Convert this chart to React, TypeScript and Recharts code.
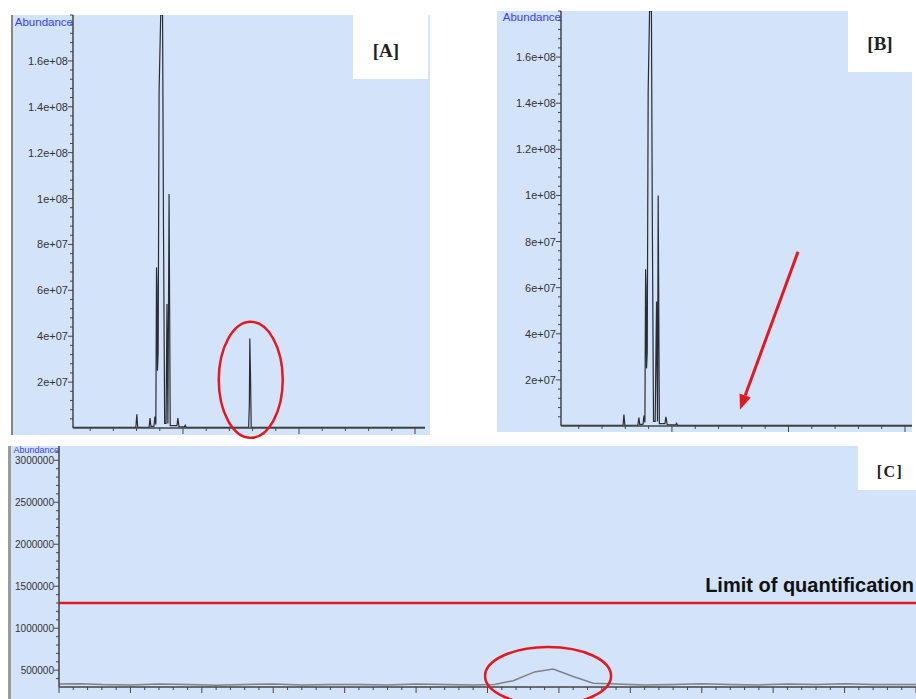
import React from 'react';
import { LineChart, Line, XAxis, YAxis, ReferenceLine, ReferenceDot } from 'recharts';

// [A] spiked sample – retention time (min) and abundance
const timeA = [0.26, 2.97, 3.01, 3.05, 3.54, 3.58, 3.62, 3.75, 3.79, 3.83, 3.86, 3.88, 3.9, 3.93, 3.97, 4.04, 4.12, 4.16, 4.21, 4.27, 4.31, 4.35, 4.4, 4.45, 4.74, 4.78, 4.83, 5.06, 5.1, 5.14, 7.83, 7.86, 7.88, 7.91, 7.94, 15.43];
const abundanceA = [3e5, 3e5, 6e6, 3e5, 4e5, 4.3e6, 6e5, 8e5, 5e6, 1.5e6, 7.0e7, 6.2e7, 2.5e7, 3.3e7, 1.47e8, 1.8e8, 1.8e8, 8.7e7, 2e6, 2e6, 5.4e7, 2e6, 1.02e8, 1e6, 1e6, 4.3e6, 5e5, 5e5, 1.2e6, 3e5, 3e5, 1e7, 3.9e7, 2.3e7, 3e5, 3e5];

// [B] blank sample
const timeB = [0.24, 2.9, 2.94, 2.98, 3.54, 3.58, 3.62, 3.76, 3.8, 3.84, 3.87, 3.89, 3.91, 3.94, 3.98, 4.04, 4.12, 4.16, 4.21, 4.28, 4.34, 4.38, 4.41, 4.46, 4.7, 4.74, 4.8, 5.16, 5.2, 5.24, 15.3];
const abundanceB = [3e5, 3e5, 5e6, 3e5, 4e5, 3.7e6, 6e5, 8e5, 4.5e6, 1.5e6, 6.8e7, 6e7, 2.5e7, 3.2e7, 1.45e8, 1.8e8, 1.8e8, 8.6e7, 2e6, 2e6, 5.4e7, 2e6, 1.0e8, 1e6, 1e6, 4e6, 5e5, 5e5, 1.2e6, 3e5, 3e5];

// [C] zoomed blank trace
const timeC = [0, 1.5, 3, 5, 7, 9, 11, 13, 15, 17, 19, 21, 23, 25, 27, 29, 30.5, 31.8, 33.3, 34.6, 36, 37.4, 39, 41, 43, 45, 47, 49, 51, 53, 55, 57, 60];
const abundanceC = [335000, 340000, 330000, 325000, 335000, 330000, 320000, 330000, 335000, 325000, 330000, 330000, 325000, 335000, 330000, 325000, 330000, 375000, 480000, 515000, 425000, 345000, 335000, 325000, 330000, 340000, 330000, 325000, 335000, 330000, 340000, 330000, 330000];

const LOQ = 1300000;

const xTicksAB = [1, 2, 3, 4, 5, 6, 7, 8, 9, 10, 11, 12, 13, 14, 15];
const yMajorAB = [2e7, 4e7, 6e7, 8e7, 1e8, 1.2e8, 1.4e8, 1.6e8];
const yLabelsAB = ['2e+07', '4e+07', '6e+07', '8e+07', '1e+08', '1.2e+08', '1.4e+08', '1.6e+08'];
const yMajorC = [500000, 1000000, 1500000, 2000000, 2500000, 3000000];
const yLabelsC = ['500000', '1000000', '1500000', '2000000', '2500000', '3000000'];

const BG = '#d3e3fa';
const AXIS = '#454545';
const TRACE = '#2a2e34';
const RED = '#e3191f';
const SANS = "'Liberation Sans', Arial, sans-serif";
const SERIF = "'Liberation Serif', 'DejaVu Serif', serif";

const yMinorAB = Array.from({ length: 45 }, (_, i) => (i + 1) * 4e6);
const yMinorC = Array.from({ length: 28 }, (_, i) => (i + 4) * 1e5);
const xTicksC = Array.from({ length: 61 }, (_, i) => i);

const dataA = timeA.map((t, i) => ({ t, v: abundanceA[i] }));
const dataB = timeB.map((t, i) => ({ t, v: abundanceB[i] }));
const dataC = timeC.map((t, i) => ({ t, v: abundanceC[i] }));

const xTick = (p: any) => {
  const len = p.payload.value % 5 === 0 ? 6 : 3;
  return <line x1={p.x} x2={p.x} y1={p.y} y2={p.y + len} stroke={AXIS} strokeWidth={1} />;
};

const yTick = (values: number[], labels: string[], fontSize: number) => (p: any) => {
  const i = values.indexOf(p.payload.value);
  const major = i >= 0;
  return (
    <g>
      <line x1={p.x - (major ? 5 : 3)} x2={p.x} y1={p.y} y2={p.y} stroke={AXIS} strokeWidth={1} />
      {major && (
        <text x={p.x - 5} y={p.y} dy={fontSize * 0.36} textAnchor="end" fontSize={fontSize} fontFamily={SANS} fill="#333">
          {labels[i]}
        </text>
      )}
    </g>
  );
};

const ellipse = (rx: number, ry: number) => (p: any) => (
  <ellipse cx={p.cx} cy={p.cy} rx={rx} ry={ry} fill="none" stroke={RED} strokeWidth={2.5} />
);

const arrow = (p: any) => {
  const { x1, y1, x2, y2 } = p;
  const a = Math.atan2(y2 - y1, x2 - x1);
  const L = 15, W = 6;
  const bx = x2 - L * Math.cos(a), by = y2 - L * Math.sin(a);
  const pts = `${x2},${y2} ${bx + W * Math.sin(a)},${by - W * Math.cos(a)} ${bx - W * Math.sin(a)},${by + W * Math.cos(a)}`;
  return (
    <g>
      <line x1={x1} y1={y1} x2={bx} y2={by} stroke={RED} strokeWidth={3} />
      <polygon points={pts} fill={RED} />
    </g>
  );
};

const loqLabel = (p: any) => {
  const vb = p.viewBox;
  return (
    <text x={vb.x + vb.width - 2} y={vb.y - 11} textAnchor="end" fontSize={20} fontWeight={700} fontFamily={SANS} fill="#111">
      Limit of quantification
    </text>
  );
};

const abundanceStyle = (right: number, top: number, size: number): React.CSSProperties => ({
  position: 'absolute', right: 916 - right, top, fontSize: size, fontFamily: SANS, color: '#3740f2', lineHeight: 1,
});

const tag = (cx: number, cy: number, size: number, spacing = 0): React.CSSProperties => ({
  position: 'absolute', left: cx - 40, top: cy - size * 0.62, width: 80, textAlign: 'center',
  fontFamily: SERIF, fontWeight: 700, fontSize: size, color: '#222', lineHeight: 1.2, letterSpacing: spacing,
});

export default function App() {
  return (
    <div style={{ position: 'absolute', left: 0, top: 0, width: 916, height: 699, background: '#fff', overflow: 'hidden' }}>
      {/* panel backgrounds */}
      <div style={{ position: 'absolute', left: 11, top: 15, width: 417, height: 420, background: BG, borderLeft: '2px solid #8d8677' }} />
      <div style={{ position: 'absolute', left: 497, top: 11, width: 415, height: 421, background: BG }} />
      <div style={{ position: 'absolute', left: 8, top: 446, width: 908, height: 253, background: BG, borderLeft: '3px solid #9b9b9b' }} />

      {/* white label boxes */}
      <div style={{ position: 'absolute', left: 353, top: 15, width: 75, height: 64, background: '#fff' }} />
      <div style={{ position: 'absolute', left: 848, top: 11, width: 64, height: 61, background: '#fff' }} />
      <div style={{ position: 'absolute', left: 858, top: 446, width: 58, height: 44, background: '#fff' }} />
      <div style={tag(386, 52, 19)}>[A]</div>
      <div style={tag(880, 45, 19)}>[B]</div>
      <div style={tag(890, 472, 16, 1.5)}>[C]</div>

      <div style={abundanceStyle(73, 17, 11.5)}>Abundance</div>
      <div style={abundanceStyle(561, 12, 11.5)}>Abundance</div>
      <div style={abundanceStyle(59, 446, 9)}>Abundance</div>

      {/* [A] */}
      <div style={{ position: 'absolute', left: 0, top: 0 }}>
        <LineChart width={440} height={440} data={dataA} margin={{ top: 15, right: 15, left: 0, bottom: 0 }}>
          <XAxis type="number" dataKey="t" domain={[0.26, 15.43]} ticks={xTicksAB} interval={0} tickSize={0} tickMargin={0} tick={xTick} height={12} axisLine={{ stroke: AXIS, strokeWidth: 1.5 }} allowDataOverflow />
          <YAxis type="number" domain={[0, 1.8e8]} ticks={yMinorAB} interval={0} tickSize={0} tickMargin={0} tick={yTick(yMajorAB, yLabelsAB, 11)} width={73} axisLine={{ stroke: AXIS, strokeWidth: 1.5 }} allowDataOverflow />
          <Line type="linear" dataKey="v" stroke={TRACE} strokeWidth={1.2} dot={false} isAnimationActive={false} />
          <ReferenceDot x={7.92} y={2.1e7} r={0} ifOverflow="visible" shape={ellipse(32, 58)} />
        </LineChart>
      </div>

      {/* [B] */}
      <div style={{ position: 'absolute', left: 488, top: 0 }}>
        <LineChart width={424} height={438} data={dataB} margin={{ top: 11, right: 0, left: 0, bottom: 0 }}>
          <XAxis type="number" dataKey="t" domain={[0.24, 15.3]} ticks={xTicksAB} interval={0} tickSize={0} tickMargin={0} tick={xTick} height={12} axisLine={{ stroke: AXIS, strokeWidth: 1.5 }} allowDataOverflow />
          <YAxis type="number" domain={[0, 1.8e8]} ticks={yMinorAB} interval={0} tickSize={0} tickMargin={0} tick={yTick(yMajorAB, yLabelsAB, 11)} width={73} axisLine={{ stroke: AXIS, strokeWidth: 1.5 }} allowDataOverflow />
          <Line type="linear" dataKey="v" stroke={TRACE} strokeWidth={1.2} dot={false} isAnimationActive={false} />
          <ReferenceLine segment={[{ x: 10.41, y: 7.56e7 }, { x: 7.92, y: 7.1e6 }]} ifOverflow="visible" shape={arrow} />
        </LineChart>
      </div>

      {/* [C] */}
      <div style={{ position: 'absolute', left: 0, top: 440 }}>
        <LineChart width={916} height={259} data={dataC} margin={{ top: 6, right: 0, left: 0, bottom: 0 }}>
          <XAxis type="number" dataKey="t" domain={[0, 60]} ticks={xTicksC} interval={0} tickSize={0} tickMargin={0} tick={xTick} height={12} axisLine={{ stroke: AXIS, strokeWidth: 1.5 }} allowDataOverflow />
          <YAxis type="number" domain={[300000, 3170000]} ticks={yMinorC} interval={0} tickSize={0} tickMargin={0} tick={yTick(yMajorC, yLabelsC, 10)} width={59} axisLine={{ stroke: AXIS, strokeWidth: 1.5 }} allowDataOverflow />
          <ReferenceLine y={LOQ} stroke={RED} strokeWidth={2.5} label={loqLabel} />
          <Line type="linear" dataKey="v" stroke="#7d8289" strokeWidth={1.5} dot={false} isAnimationActive={false} />
          <ReferenceDot x={34.24} y={431000} r={0} ifOverflow="visible" shape={ellipse(63, 29)} />
        </LineChart>
      </div>
    </div>
  );
}
